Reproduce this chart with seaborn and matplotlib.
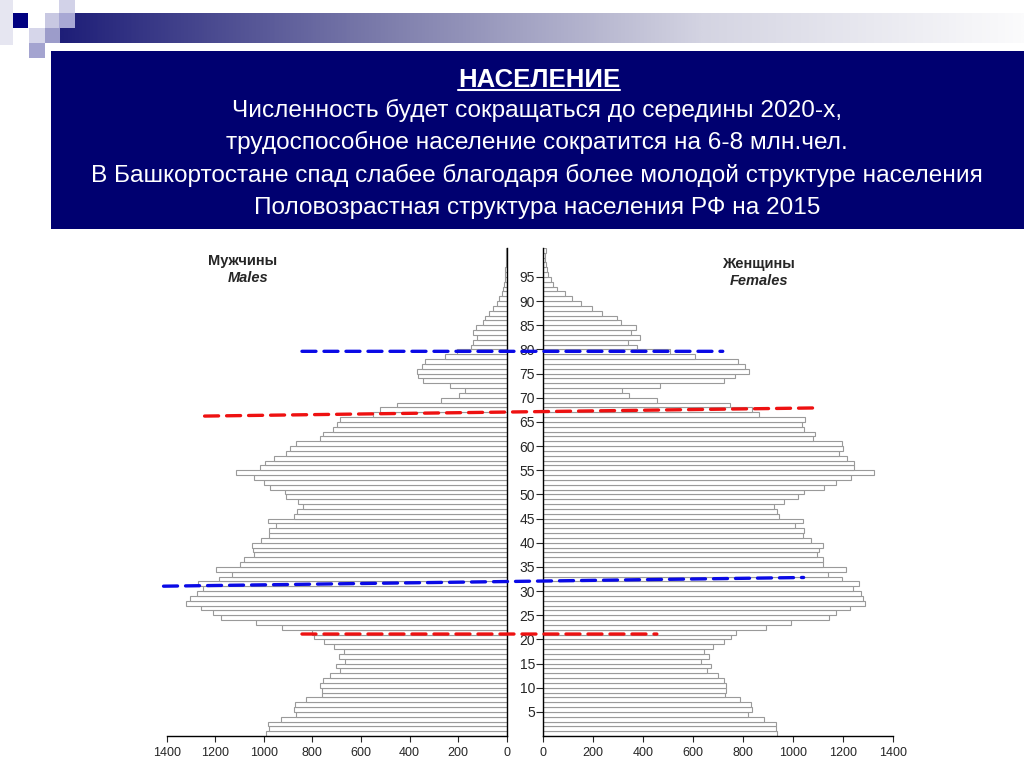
import numpy as np
import pandas as pd
import matplotlib
matplotlib.use("Agg")
import matplotlib.pyplot as plt
import seaborn as sns
from matplotlib.patches import Rectangle, ConnectionPatch
from matplotlib.colors import LinearSegmentedColormap
from matplotlib.lines import Line2D

# population of RF by single year of age, 2015 (thousands)
ages = list(range(0, 101))
males = [992, 978, 982, 929, 866, 874, 870, 825, 762, 762,
         767, 758, 729, 685, 703, 664, 689, 671, 712, 753,
         792, 801, 925, 1032, 1178, 1210, 1258, 1321, 1304, 1277,
         1249, 1271, 1185, 1133, 1199, 1100, 1082, 1041, 1045, 1048,
         1010, 980, 980, 948, 982, 874, 863, 838, 860, 907,
         914, 973, 1000, 1041, 1114, 1017, 996, 959, 907, 893,
         866, 767, 756, 715, 699, 685, 552, 523, 452, 270,
         195, 171, 233, 345, 366, 370, 349, 338, 253, 205,
         148, 137, 121, 137, 127, 99, 89, 71, 58, 38,
         30, 21, 14, 10, 7, 6, 5, 4, 3, 2, 2]
females = [936, 931, 931, 883, 821, 836, 831, 787, 728, 732,
           731, 723, 701, 657, 671, 631, 663, 644, 680, 723,
           753, 771, 893, 991, 1144, 1173, 1230, 1289, 1280, 1273,
           1240, 1266, 1196, 1140, 1213, 1120, 1120, 1097, 1104, 1120,
           1073, 1042, 1046, 1009, 1042, 946, 937, 926, 964, 1020,
           1046, 1124, 1173, 1233, 1326, 1246, 1246, 1217, 1186, 1200,
           1196, 1082, 1090, 1046, 1037, 1050, 864, 836, 749, 457,
           344, 317, 469, 723, 767, 824, 807, 780, 607, 507,
           377, 340, 387, 351, 373, 313, 296, 236, 196, 151,
           116, 87, 56, 37, 29, 17, 13, 11, 7, 5, 10]

x_ticks = list(range(0, 1401, 200))
age_ticks = list(range(5, 96, 5))

# dashed marker lines: (age at male end, age at female end, male extent, female extent, colour)
mark_age_left = [79.6, 66.2, 31.0, 21.1]
mark_age_right = [79.6, 67.9, 32.8, 21.1]
mark_male = [843, 1244, 1413, 843]
mark_female = [719, 1110, 1043, 455]
mark_color = ["#0a0ae6", "#ee1111", "#0a0ae6", "#ee1111"]

title = "НАСЕЛЕНИЕ"
subtitle = ["Численность будет сокращаться до середины 2020-х,",
            "трудоспособное население сократится на 6-8 млн.чел.",
            "В Башкортостане спад слабее благодаря более молодой структуре населения",
            "Половозрастная структура населения РФ на 2015"]

sns.set_style("ticks")
plt.rcParams["font.family"] = ["Liberation Sans", "DejaVu Sans"]

df = pd.DataFrame({"age": ages, "males": males, "females": females})
df["pos"] = df["age"] + 0.5  # bar for age a covers [a, a+1)

W, H = 1024, 767
fig = plt.figure(figsize=(W / 100, H / 100), dpi=100)


def fx(px):
    return px / W


def fy(py):
    return 1 - py / H


# header decoration
grad = fig.add_axes([fx(60), fy(43), fx(W - 60), 30 / H])
cmap = LinearSegmentedColormap.from_list("hdr", ["#1e1e78", "#7c7cab", "#d4d4e2", "#fbfbfc"])
grad.imshow(np.linspace(0, 1, 512)[None, :], aspect="auto", cmap=cmap, extent=[0, 1, 0, 1])
grad.axis("off")

squares = [(0, 0, 13, 45, "#e6e6f1"), (13, 13, 15, 15, "#000080"),
           (29, 28, 16, 15, "#d6d6ea"), (29, 43, 16, 15, "#a4a4d0"),
           (45, 13, 15, 15, "#c8c8e2"), (45, 28, 15, 15, "#9c9cca"),
           (59, 0, 16, 13, "#d2d2e8"), (59, 13, 16, 15, "#a8a8d4")]
for x0, y0, w, h, c in squares:
    fig.add_artist(Rectangle((fx(x0), fy(y0 + h)), w / W, h / H, transform=fig.transFigure,
                             facecolor=c, edgecolor="none"))

fig.add_artist(Rectangle((fx(51), fy(229)), fx(W - 51), 178 / H, transform=fig.transFigure,
                         facecolor="#000070", edgecolor="none"))

head = fig.text(fx(539), fy(87), title, ha="center", va="baseline", color="white",
                fontsize=18.5, fontweight="bold")
for i, line in enumerate(subtitle):
    fig.text(fx(537), fy(117 + 32.3 * i), line, ha="center", va="baseline", color="white",
             fontsize=17.6)

# pyramid
ax_l = fig.add_axes([fx(166.7), fy(736), (506.7 - 166.7) / W, (736 - 247.9) / H])
ax_r = fig.add_axes([fx(543.3), fy(736), (892.7 - 543.3) / W, (736 - 247.9) / H])

bar_kw = dict(orient="y", native_scale=True, width=1, color="white", saturation=1,
              edgecolor="#9a9a9a", linewidth=0.8, errorbar=None)
sns.barplot(data=df, x="males", y="pos", ax=ax_l, **bar_kw)
sns.barplot(data=df, x="females", y="pos", ax=ax_r, **bar_kw)

ax_l.set_xlim(1400, 0)
ax_r.set_xlim(0, 1400)
for ax in (ax_l, ax_r):
    ax.set_ylim(0, 101)
    ax.set_xlabel("")
    ax.set_ylabel("")
    ax.set_xticks(x_ticks)
    ax.tick_params(axis="x", direction="out", length=4, width=0.8, pad=4, labelsize=9)
    ax.spines["top"].set_visible(False)
    for s in ax.spines.values():
        s.set_linewidth(1.0)
        s.set_color("black")

ax_l.spines["left"].set_visible(False)
ax_l.set_yticks([])
ax_r.spines["right"].set_visible(False)
ax_r.set_yticks(age_ticks)
ax_r.tick_params(axis="y", direction="out", length=5, width=0.8, pad=1, labelsize=10)

fig.text(fx(243), fy(265), "Мужчины", ha="center", va="baseline", fontsize=10.5, fontweight="bold")
fig.text(fx(248), fy(282), "Males", ha="center", va="baseline", fontsize=10.5,
         fontweight="bold", style="italic")
fig.text(fx(758), fy(268), "Женщины", ha="center", va="baseline", fontsize=10.5, fontweight="bold")
fig.text(fx(759), fy(285), "Females", ha="center", va="baseline", fontsize=10.5,
         fontweight="bold", style="italic")

for a0, a1, m, f, c in zip(mark_age_left, mark_age_right, mark_male, mark_female, mark_color):
    cp = ConnectionPatch(xyA=(m, a0), coordsA=ax_l.transData, xyB=(f, a1), coordsB=ax_r.transData,
                         color=c, linewidth=2.4, linestyle=(0, (4.2, 2.4)), zorder=5)
    fig.add_artist(cp)

# underline the heading
fig.canvas.draw()
bb = head.get_window_extent()
yb = fy(90) * H
fig.add_artist(Line2D([bb.x0 / W, bb.x1 / W], [yb / H, yb / H], transform=fig.transFigure,
                      color="white", linewidth=1.5))

fig.savefig("out.png", dpi=100)
